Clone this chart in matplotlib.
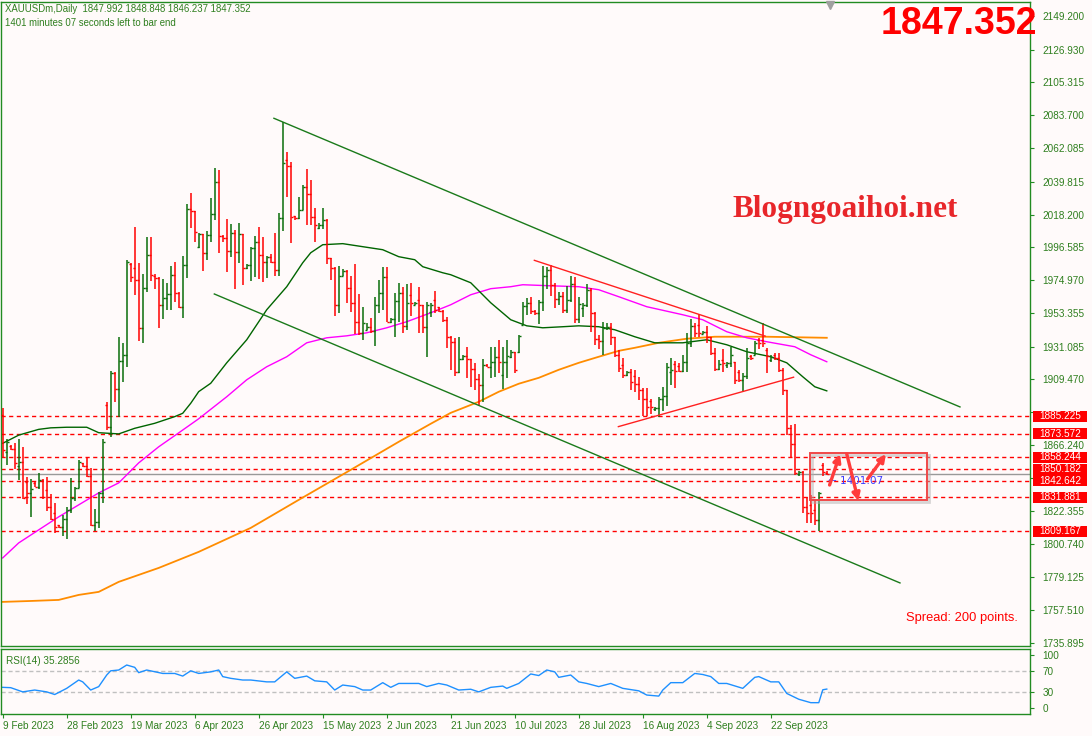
import matplotlib
matplotlib.use("Agg")
import matplotlib.pyplot as plt
import matplotlib.transforms as mtransforms
from matplotlib.patches import Rectangle
import numpy as np

header = "XAUUSDm,Daily  1847.992 1848.848 1846.237 1847.352"
timer_text = "1401 minutes 07 seconds left to bar end"
last_price = 1847.352

opens = [1886.1, 1861.7, 1865.6, 1863.7, 1852.4, 1855.1, 1841.9, 1834.6, 1841.2, 1838.6,
         1843.2, 1836.6, 1825.4, 1821.4, 1813.5, 1812.2, 1817.5, 1823.4, 1831.3, 1837.9,
         1854.4, 1852.4, 1845.8, 1813.5, 1815.5, 1834.6, 1892.7, 1878.2, 1913.8, 1903.3,
         1921.7, 1925.7, 1985.8, 1983.1, 1975.2, 1943.5, 1969.9, 1991.7, 1977.8, 1976.5,
         1958.7, 1963.3, 1966.0, 1978.5, 1966.6, 1957.4, 1985.1, 2022.1, 2020.7, 1997.0,
         2005.6, 1993.0, 2004.9, 2018.8, 2039.9, 2004.2, 2002.9, 1994.3, 2006.2, 1993.7,
         2005.6, 1983.1, 1985.1, 1996.3, 2000.3, 1991.7, 1987.1, 1990.4, 1987.1, 1981.8,
         2016.1, 2054.4, 2050.4, 2017.4, 2016.1, 2021.4, 2036.6, 2032.0, 2016.8, 2009.5,
         2011.5, 2014.8, 1989.7, 1983.1, 1958.7, 1977.8, 1981.1, 1969.9, 1960.0, 1947.5,
         1940.2, 1942.2, 1944.2, 1941.5, 1958.7, 1966.6, 1977.2, 1947.5, 1949.5, 1961.3,
         1966.6, 1944.8, 1965.3, 1958.7, 1962.0, 1958.7, 1944.2, 1954.1, 1962.0, 1957.4,
         1954.7, 1948.8, 1937.6, 1934.3, 1914.5, 1923.1, 1925.0, 1923.1, 1916.5, 1909.9,
         1905.9, 1919.1, 1917.8, 1921.1, 1924.4, 1912.5, 1921.1, 1924.4, 1927.7, 1927.7,
         1945.5, 1958.0, 1960.0, 1954.7, 1953.4, 1960.7, 1977.8, 1981.8, 1971.9, 1962.7,
         1964.6, 1955.4, 1962.0, 1972.6, 1949.5, 1956.7, 1958.7, 1968.6, 1953.4, 1936.3,
         1934.9, 1943.5, 1944.2, 1937.6, 1925.7, 1919.1, 1912.5, 1914.5, 1911.8, 1906.6,
         1902.6, 1896.7, 1895.3, 1890.1, 1890.7, 1896.7, 1898.6, 1914.5, 1919.8, 1918.4,
         1915.1, 1921.1, 1933.6, 1944.8, 1945.5, 1939.6, 1940.9, 1937.6, 1927.0, 1916.5,
         1922.4, 1919.1, 1920.4, 1921.1, 1914.5, 1909.2, 1911.8, 1925.0, 1925.7, 1935.6,
         1935.6, 1929.0, 1922.4, 1925.7, 1923.7, 1915.8, 1902.6, 1877.5, 1866.9, 1847.2,
         1848.5, 1825.4, 1826.7, 1823.4, 1816.8, 1853.1, 1847.992]
highs = [1890.7, 1870.3, 1866.3, 1867.6, 1870.3, 1865.0, 1845.2, 1843.9, 1841.9, 1847.8,
         1843.9, 1845.2, 1834.0, 1828.0, 1813.5, 1820.1, 1825.4, 1844.5, 1838.6, 1856.4,
         1854.4, 1858.4, 1851.1, 1824.1, 1835.3, 1870.3, 1894.7, 1915.1, 1914.5, 1937.6,
         1933.6, 1988.4, 1986.4, 2010.2, 1986.4, 1979.2, 2003.6, 2003.6, 1979.2, 1977.2,
         1975.9, 1973.2, 1984.4, 1987.1, 1967.3, 1991.0, 2025.4, 2032.6, 2020.7, 2006.2,
         2005.6, 2007.5, 2029.3, 2049.1, 2047.8, 2004.9, 2015.5, 2012.2, 2008.2, 2012.8,
         2005.6, 1985.8, 1997.0, 2004.2, 2010.2, 2003.6, 1991.0, 1992.4, 2006.2, 2019.4,
         2079.5, 2059.7, 2053.1, 2017.4, 2030.0, 2037.9, 2048.5, 2041.2, 2022.7, 2012.8,
         2022.7, 2015.5, 1989.7, 1983.8, 1984.4, 1982.5, 1981.8, 1977.8, 1985.8, 1966.0,
         1957.4, 1946.8, 1950.1, 1964.0, 1975.2, 1983.8, 1983.8, 1950.1, 1966.6, 1973.2,
         1970.6, 1972.6, 1973.2, 1960.7, 1970.6, 1958.7, 1960.7, 1960.0, 1967.9, 1957.4,
         1955.4, 1950.8, 1938.2, 1936.9, 1937.6, 1925.7, 1931.0, 1923.1, 1920.4, 1913.2,
         1923.1, 1919.8, 1931.0, 1931.0, 1935.6, 1931.0, 1935.6, 1929.0, 1927.7, 1938.9,
         1960.7, 1963.3, 1964.0, 1955.4, 1962.0, 1984.4, 1983.8, 1985.1, 1973.2, 1967.3,
         1967.3, 1971.2, 1977.8, 1977.2, 1964.0, 1960.0, 1972.6, 1969.9, 1954.1, 1938.9,
         1947.5, 1946.8, 1946.8, 1937.6, 1929.0, 1923.7, 1915.1, 1916.5, 1915.8, 1911.2,
         1903.9, 1903.9, 1896.7, 1891.4, 1898.0, 1904.6, 1920.4, 1923.7, 1921.7, 1920.4,
         1925.7, 1940.2, 1949.5, 1946.8, 1952.8, 1941.5, 1944.8, 1937.6, 1930.3, 1922.4,
         1929.7, 1921.1, 1931.0, 1921.1, 1915.8, 1913.8, 1930.3, 1925.7, 1934.9, 1936.9,
         1946.8, 1930.3, 1925.7, 1927.0, 1927.0, 1917.1, 1902.6, 1879.5, 1880.2, 1849.1,
         1849.1, 1832.0, 1833.3, 1830.0, 1835.3, 1854.4, 1848.848]
lows = [1858.4, 1853.1, 1863.0, 1850.5, 1843.2, 1830.7, 1827.4, 1818.8, 1838.6, 1837.3,
        1830.7, 1822.7, 1816.8, 1808.2, 1811.5, 1806.2, 1804.3, 1821.4, 1829.3, 1837.9,
        1851.8, 1845.2, 1812.8, 1809.5, 1811.5, 1828.0, 1876.2, 1871.6, 1894.7, 1884.8,
        1907.9, 1917.8, 1973.9, 1965.3, 1934.9, 1933.6, 1967.3, 1974.5, 1969.3, 1943.5,
        1949.5, 1955.4, 1955.4, 1960.7, 1956.7, 1950.1, 1976.5, 2009.5, 2000.3, 1996.3,
        1981.1, 1988.4, 2000.3, 2014.8, 1993.0, 2000.3, 1980.5, 1990.4, 1969.3, 1986.4,
        1971.9, 1982.5, 1974.5, 1977.2, 1975.9, 1973.9, 1976.5, 1986.4, 1977.8, 1977.8,
        2007.5, 2030.0, 1999.6, 2014.8, 2015.5, 2021.4, 2011.5, 2011.5, 2000.3, 2008.9,
        2008.9, 1985.8, 1975.2, 1951.4, 1953.4, 1977.8, 1960.0, 1954.1, 1939.6, 1938.9,
        1935.6, 1942.2, 1940.2, 1931.6, 1953.4, 1955.4, 1947.5, 1946.8, 1937.6, 1947.5,
        1940.2, 1942.2, 1951.4, 1958.7, 1940.2, 1940.2, 1924.4, 1950.8, 1953.4, 1954.1,
        1947.5, 1930.3, 1915.8, 1911.8, 1913.8, 1922.4, 1910.5, 1904.6, 1902.6, 1892.7,
        1894.7, 1917.8, 1910.5, 1911.2, 1913.8, 1903.3, 1910.5, 1923.7, 1913.8, 1927.0,
        1945.5, 1952.1, 1952.8, 1952.1, 1946.2, 1954.7, 1969.3, 1964.6, 1956.7, 1958.7,
        1953.4, 1953.4, 1960.7, 1946.8, 1946.8, 1950.8, 1957.4, 1940.9, 1932.3, 1929.7,
        1925.7, 1942.2, 1932.3, 1924.4, 1914.5, 1910.5, 1911.8, 1902.6, 1901.3, 1896.0,
        1885.4, 1885.4, 1886.8, 1888.7, 1884.8, 1888.7, 1892.0, 1905.9, 1903.9, 1914.5,
        1914.5, 1914.5, 1930.9, 1937.6, 1937.6, 1939.6, 1933.6, 1925.7, 1915.1, 1915.8,
        1914.5, 1917.1, 1917.8, 1906.6, 1907.9, 1901.3, 1909.9, 1922.4, 1925.7, 1929.7,
        1930.9, 1913.8, 1921.1, 1922.4, 1914.5, 1899.3, 1872.9, 1858.4, 1846.5, 1845.8,
        1821.4, 1814.8, 1814.8, 1813.5, 1809.2, 1845.8, 1846.237]
closes = [1863.0, 1868.3, 1863.7, 1854.4, 1855.1, 1831.3, 1834.6, 1837.3, 1838.6, 1843.2,
          1832.0, 1825.4, 1817.5, 1812.2, 1812.2, 1817.5, 1823.4, 1831.3, 1837.9, 1855.1,
          1852.4, 1845.8, 1813.5, 1815.5, 1834.6, 1868.3, 1878.2, 1913.8, 1903.3, 1921.7,
          1925.7, 1987.1, 1977.2, 1975.2, 1943.5, 1969.9, 1991.7, 1978.5, 1976.5, 1958.7,
          1963.3, 1966.0, 1978.5, 1966.6, 1957.4, 1985.1, 2022.1, 2020.7, 2006.9, 2005.6,
          1993.0, 2004.9, 2018.8, 2039.9, 2004.2, 2002.9, 1994.3, 2006.2, 1993.7, 2005.6,
          1983.1, 1985.1, 1996.3, 2000.3, 1991.7, 1987.1, 1990.4, 1987.1, 1981.8, 2016.1,
          2052.4, 2050.4, 2016.8, 2016.1, 2021.4, 2036.6, 2032.0, 2016.8, 2011.5, 2011.5,
          2014.8, 1989.7, 1983.1, 1958.7, 1977.8, 1981.1, 1969.9, 1960.0, 1947.5, 1940.2,
          1946.8, 1944.2, 1941.5, 1958.7, 1966.6, 1977.2, 1947.5, 1949.5, 1961.3, 1966.6,
          1944.8, 1960.0, 1960.0, 1960.0, 1958.7, 1944.2, 1958.7, 1958.7, 1955.4, 1954.7,
          1948.8, 1937.6, 1934.3, 1914.5, 1923.1, 1925.0, 1923.1, 1916.5, 1909.9, 1905.9,
          1919.1, 1917.8, 1921.1, 1924.4, 1921.1, 1921.1, 1925.0, 1927.7, 1915.8, 1938.2,
          1958.0, 1960.0, 1954.7, 1953.4, 1960.7, 1977.8, 1981.8, 1971.9, 1962.7, 1964.6,
          1955.4, 1962.0, 1972.6, 1949.5, 1959.4, 1958.7, 1968.6, 1953.4, 1936.3, 1934.9,
          1943.5, 1944.2, 1937.6, 1925.7, 1917.1, 1912.5, 1914.5, 1907.9, 1906.6, 1902.6,
          1896.7, 1891.4, 1891.4, 1890.7, 1896.7, 1898.6, 1917.8, 1915.8, 1915.1, 1915.1,
          1921.1, 1933.6, 1944.8, 1940.2, 1940.2, 1940.9, 1937.6, 1927.0, 1916.5, 1919.8,
          1920.4, 1920.4, 1925.7, 1909.2, 1909.2, 1911.8, 1923.7, 1923.7, 1933.6, 1933.6,
          1933.6, 1925.0, 1924.4, 1923.7, 1915.8, 1902.6, 1877.5, 1866.9, 1847.8, 1848.5,
          1825.4, 1821.4, 1821.4, 1816.8, 1834.6, 1848.5, 1847.352]

# moving averages (bar index, price)
ma_fast_idx = [0, 4, 9, 12, 16, 21, 24, 29, 33, 38, 43, 45, 47, 49, 52, 56, 61, 66, 71, 75,
               77, 80, 85, 90, 95, 99, 103, 105, 110, 112, 117, 122, 127, 131, 135, 140, 144,
               149, 153, 158, 163, 170, 176, 181, 186, 192, 196, 200, 203, 206]
ma_fast = [1867.3, 1872.7, 1876.5, 1877.5, 1877.9, 1877.9, 1874.3, 1873.5, 1877.2, 1880.5,
           1884.9, 1887.1, 1893.7, 1901.4, 1906.9, 1920.4, 1935.6, 1955.4, 1970.6, 1986.4,
           1993.0, 1998.3, 1999.0, 1997.0, 1995.0, 1990.4, 1988.4, 1983.8, 1979.8, 1978.5,
           1973.2, 1960.0, 1948.8, 1944.8, 1943.5, 1944.2, 1944.8, 1944.2, 1942.2, 1937.6,
           1933.6, 1933.6, 1935.6, 1932.3, 1927.7, 1924.4, 1920.4, 1911.2, 1904.6, 1901.9]
ma_mid_idx = [0, 4, 9, 14, 19, 24, 29, 34, 39, 44, 49, 56, 61, 66, 71, 76, 81, 86, 91, 96,
              101, 107, 112, 117, 122, 127, 130, 137, 144, 149, 154, 161, 170, 175, 181, 186,
              191, 198, 202, 206]
ma_mid = [1791.7, 1801.6, 1810.2, 1818.8, 1826.7, 1834.6, 1841.2, 1854.4, 1865.0, 1874.2,
          1883.5, 1898.0, 1909.2, 1917.8, 1924.4, 1933.6, 1936.9, 1938.2, 1940.2, 1943.5,
          1947.5, 1953.4, 1958.7, 1965.3, 1969.3, 1970.6, 1971.9, 1971.2, 1970.6, 1968.6,
          1964.0, 1957.4, 1952.1, 1948.8, 1940.9, 1936.9, 1934.3, 1931.0, 1925.7, 1921.1]
ma_slow_idx = [0, 7, 14, 19, 24, 29, 34, 39, 44, 49, 62, 74, 87, 99, 107, 112, 119, 124, 129,
               134, 139, 144, 149, 154, 158, 164, 171, 178, 191, 206]
ma_slow = [1762.7, 1763.3, 1764.0, 1767.3, 1769.3, 1775.9, 1780.5, 1785.1, 1790.4, 1795.7,
           1811.5, 1830.0, 1849.8, 1868.3, 1880.2, 1887.4, 1894.7, 1901.3, 1906.6, 1910.5,
           1915.8, 1920.4, 1924.4, 1928.3, 1930.3, 1933.6, 1936.3, 1937.6, 1937.6, 1936.9]

rsi_idx = [0, 2, 5, 8, 11, 13, 16, 19, 20, 22, 24, 26, 27, 29, 31, 33, 34, 36, 40, 43,
           45, 47, 49, 52, 54, 55, 57, 60, 62, 66, 68, 71, 73, 76, 78, 81, 83, 85, 88, 90,
           92, 95, 97, 99, 102, 104, 106, 109, 111, 114, 117, 119, 122, 125, 126, 129, 132, 134, 136, 138,
           139, 142, 144, 146, 149, 152, 155, 159, 161, 164, 165, 167, 170, 173, 175, 177, 179, 181, 185, 188,
           189, 192, 194, 196, 199, 202, 204, 205, 206]
rsi_vals = [38.6, 38, 30, 33.5, 30, 25, 36.7, 52.5, 49, 33.5, 40, 62, 70, 71.5, 81, 76.6, 66.5, 71.5, 65, 65,
            60, 70, 65, 68, 71.5, 59, 55.7, 52.5, 52.5, 49, 49, 68, 55.7, 60, 51, 49, 33.5, 43, 40, 33.5,
            33.5, 47.5, 38.6, 46, 46, 46, 40, 46, 43, 33.5, 35, 30, 38.6, 41, 36.7, 46, 64, 61, 71.5, 68,
            57.6, 62, 49, 46, 40, 46, 36.7, 32, 24, 22, 33.5, 47.5, 47.5, 65, 63, 59, 46, 46, 36.7, 57.6,
            59, 49, 49, 27, 16, 9.5, 9.5, 34, 35.29]

levels = [1885.225, 1873.572, 1858.244, 1850.182, 1842.642, 1831.881, 1809.167]
# 1887.855 and 1844.625 sit under the red level labels, so only their tick marks show
price_ticks = [2149.200, 2126.930, 2105.315, 2083.700, 2062.085, 2039.815, 2018.200, 1996.585,
               1974.970, 1953.355, 1931.085, 1909.470, 1887.855, 1866.240, 1844.625, 1822.355,
               1800.740, 1779.125, 1757.510, 1735.895]
hidden_ticks = [1887.855, 1844.625]
date_idx = [0, 16, 32, 48, 64, 80, 96, 112, 128, 144, 160, 176, 192]
date_labels = ["9 Feb 2023", "28 Feb 2023", "19 Mar 2023", "6 Apr 2023", "26 Apr 2023",
               "15 May 2023", "2 Jun 2023", "21 Jun 2023", "10 Jul 2023", "28 Jul 2023",
               "16 Aug 2023", "4 Sep 2023", "22 Sep 2023"]

# trend lines drawn by hand on the chart: (bar, price) pairs
channel_top = [(67.8, 2081.7), (239.3, 1891.3)]
channel_bottom = [(52.9, 1965.8), (224.3, 1775.2)]
wedge_top = [(132.9, 1988.0), (190.6, 1938.0)]
wedge_bottom = [(153.9, 1878.3), (197.7, 1910.9)]
box = (201.7, 1830.0, 231.0, 1860.7)
arrows = [((206.7, 1839.8), (209.3, 1860.2)),
          ((211.0, 1860.2), (213.9, 1829.3)),
          ((216.2, 1843.8), (220.8, 1860.2))]

BG = "#fffafa"
FRAME = "#228b22"
TXT = "#2f7f1f"
UP = "#0a6e0a"
DOWN = "#ff0000"
SANS = "Liberation Sans"

W, H = 1092, 736


def frame(x0, y0, x1, y1):
    return [x0 / W, 1 - y1 / H, (x1 - x0) / W, (y1 - y0) / H]


fig = plt.figure(figsize=(W / 100, H / 100), dpi=100)
fig.patch.set_facecolor(BG)
ax = fig.add_axes(frame(1, 2, 1030, 646))
rsi_ax = fig.add_axes(frame(1, 649, 1030, 714))
for a in (ax, rsi_ax):
    a.set_facecolor(BG)
    for s in a.spines.values():
        s.set_color(FRAME)
        s.set_linewidth(1)
    a.set_xlim(-0.425, 256.8)

ax.set_ylim(1733.6, 2158.4)

o = np.array(opens)
h = np.array(highs)
l = np.array(lows)
c = np.array(closes)
idx = np.arange(len(c))
cols = np.where(c >= o, UP, DOWN)
ax.vlines(idx, l, h, colors=cols, lw=1.1, zorder=3)
ax.hlines(o, idx - 0.5, idx, colors=cols, lw=1.0, zorder=3)
ax.hlines(c, idx, idx + 0.5, colors=cols, lw=1.0, zorder=3)

ax.plot(ma_slow_idx, ma_slow, color="#ff8c00", lw=1.3, zorder=2)
ax.plot(ma_mid_idx, ma_mid, color="#ff00ff", lw=1.0, zorder=2)
ax.plot(ma_fast_idx, ma_fast, color="#006400", lw=1.0, zorder=2)

for line, col in [(channel_top, "#1a7a1a"), (channel_bottom, "#1a7a1a"),
                  (wedge_top, "#ff2020"), (wedge_bottom, "#ff2020")]:
    xs, ys = zip(*line)
    ax.plot(xs, ys, color=col, lw=1.0, zorder=4)

for lv in levels:
    ax.axhline(lv, color="#ff0000", lw=1.0, ls=(0, (3, 2.5)), zorder=1)
ax.axhline(last_price, color="#999999", lw=1.0, zorder=1)

# right price scale
ax.yaxis.tick_right()
ax.set_yticks(price_ticks)
ax.set_yticklabels(["" if v in hidden_ticks else f"{v:.3f}" for v in price_ticks],
                   family=SANS)
ax.tick_params(axis="y", colors=FRAME, labelcolor=TXT, labelsize=7.2, length=3, width=0.8, pad=6)
ax.set_xticks([])

lab_tr = mtransforms.blended_transform_factory(ax.transAxes, ax.transData)
box_h = 11 * 0.6596
for lv in levels:
    ax.add_patch(Rectangle((1.0029, lv - box_h / 2), 0.0525, box_h, transform=lab_tr,
                           fc="#ff0000", ec="none", clip_on=False, zorder=9))
    ax.text(1.0291, lv, f"{lv:.3f}", transform=lab_tr, color="white", fontsize=7.2,
            family=SANS, ha="center", va="center", clip_on=False, zorder=10)

# box with arrows
x0, y0, x1, y1 = box
ax.add_patch(Rectangle((x0 + 0.5, y0 - 1.2), x1 - x0, y1 - y0, fill=False,
                       ec="#b0b0b0", lw=2.0, alpha=0.5, zorder=5))
ax.add_patch(Rectangle((x0, y0), x1 - x0, y1 - y0, fill=False, ec="#f04848", lw=1.4, zorder=6))
for start, end in arrows:
    ax.annotate("", xy=end, xytext=start, zorder=8,
                arrowprops=dict(arrowstyle="-|>", color="#ff3c3c", lw=2.4,
                                mutation_scale=11, shrinkA=0, shrinkB=0))
ax.text(206.2, 1842.6, "\u2190 1401:07", color="#3b3bff", fontsize=7.5, ha="left",
        va="center", zorder=7)
ax.plot([206.8], [2156.2], marker="v", color="#a0a0a0", ms=6, clip_on=False, zorder=9)

# RSI panel
rsi_ax.set_ylim(-12, 111.4)
rsi_ax.axhline(70, color="#c0c0c0", lw=1, ls=(0, (3, 2)))
rsi_ax.axhline(30, color="#c0c0c0", lw=1, ls=(0, (3, 2)))
rsi_ax.plot(rsi_idx, rsi_vals, color="#1e90ff", lw=1.0)
rsi_ax.yaxis.tick_right()
rsi_ax.set_yticks([100, 70, 30, 0])
rsi_ax.set_yticklabels(["100", "70", "30", "0"], family=SANS)
rsi_ax.tick_params(axis="y", colors=FRAME, labelcolor=TXT, labelsize=7.2, length=3, width=0.8, pad=6)
rsi_ax.set_xticks(date_idx)
rsi_ax.set_xticklabels(date_labels, ha="left", family=SANS)
rsi_ax.tick_params(axis="x", colors=FRAME, labelcolor=TXT, labelsize=7.2, length=3, width=0.8, pad=2)
rsi_ax.text(0.005, 0.82, "RSI(14) 35.2856", transform=rsi_ax.transAxes, color=TXT,
            fontsize=7.2, family=SANS, ha="left", va="center")

# texts on top
fig.text(5 / W, 1 - 9 / H, header, color=TXT, fontsize=6.9, family=SANS, ha="left", va="center")
fig.text(5 / W, 1 - 23 / H, timer_text, color=TXT, fontsize=6.9, family=SANS, ha="left", va="center")
fig.text(1037 / W, 1 - 24 / H, "1847.352", color="#ff0000", fontsize=27, weight="bold",
         family=SANS, ha="right", va="center")
fig.text(845 / W, 1 - 210 / H, "Blogngoaihoi.net", color="#e8262a", fontsize=22.5,
         weight="bold", family="Liberation Serif", ha="center", va="center")
fig.text(1018 / W, 1 - 618 / H, "Spread: 200 points.", color="#ff0000", fontsize=9.3,
         family=SANS, ha="right", va="center")

fig.savefig("out.png", dpi=100, facecolor=BG)
